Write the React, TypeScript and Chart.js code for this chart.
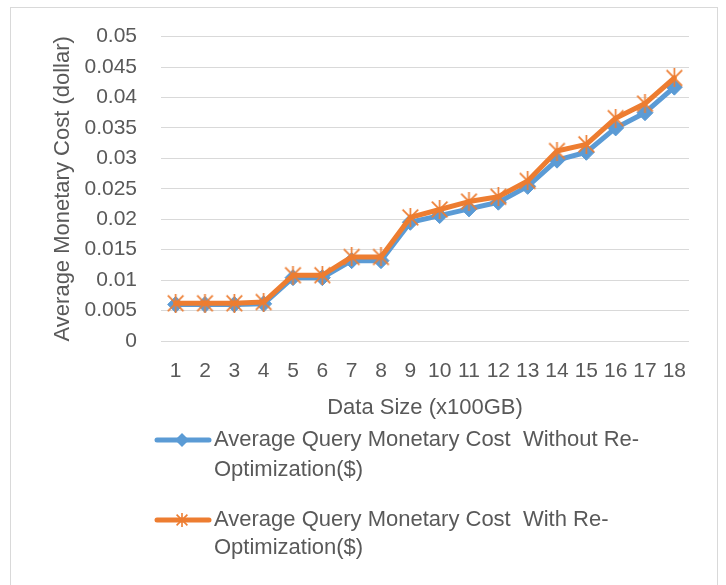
import React, { useEffect, useRef } from "react";
import { Chart, registerables } from "chart.js";

Chart.register(...registerables);

const categories: string[] = ["1","2","3","4","5","6","7","8","9","10","11","12","13","14","15","16","17","18"];
const withoutReopt: number[] = [0.0060, 0.0060, 0.0060, 0.0061, 0.0104, 0.0104, 0.0132, 0.0132, 0.0195, 0.0206, 0.0217, 0.0228, 0.0254, 0.0297, 0.0310, 0.0350, 0.0375, 0.0417];
const withReopt: number[] = [0.0062, 0.0062, 0.0062, 0.0064, 0.0108, 0.0108, 0.0138, 0.0138, 0.0203, 0.0216, 0.0229, 0.0237, 0.0263, 0.0312, 0.0323, 0.0366, 0.0390, 0.0432];
const seriesLabels: string[][] = [
  ["Average Query Monetary Cost  Without Re-", "Optimization($)"],
  ["Average Query Monetary Cost  With Re-", "Optimization($)"],
];
const yTitle = "Average Monetary Cost (dollar)";
const xTitle = "Data Size (x100GB)";

const BLUE = "#5B9BD5";
const ORANGE = "#ED7D31";
const TEXT = "#595959";
const GRID = "#D9D9D9";
const FONT = "'Liberation Sans', Arial, sans-serif";

function makeStar(size: number, color: string, lw: number): HTMLCanvasElement {
  const c = document.createElement("canvas");
  c.width = size;
  c.height = size;
  const ctx = c.getContext("2d")!;
  ctx.strokeStyle = color;
  ctx.lineWidth = lw;
  const m = lw;
  ctx.beginPath();
  ctx.moveTo(m, m);
  ctx.lineTo(size - m, size - m);
  ctx.moveTo(size - m, m);
  ctx.lineTo(m, size - m);
  ctx.moveTo(size / 2, 0);
  ctx.lineTo(size / 2, size);
  ctx.stroke();
  return c;
}

export default function App() {
  const ref = useRef<HTMLCanvasElement>(null);

  useEffect(() => {
    const canvas = ref.current;
    if (!canvas) return;
    const star = makeStar(19, ORANGE, 1.7);
    const smallStar = makeStar(14, ORANGE, 1.6);

    const framePlugin = {
      id: "frame",
      beforeDraw(chart: any) {
        const ctx = chart.ctx;
        ctx.save();
        ctx.strokeStyle = GRID;
        ctx.lineWidth = 1;
        ctx.strokeRect(10.5, 7.5, 707, 600);
        ctx.restore();
      },
      afterDraw(chart: any) {
        const ctx = chart.ctx;
        ctx.save();
        const entries = [
          { color: BLUE, y: 440, y2: 470, marker: "diamond", lines: seriesLabels[0] },
          { color: ORANGE, y: 520, y2: 548, marker: "star", lines: seriesLabels[1] },
        ];
        for (const e of entries) {
          ctx.strokeStyle = e.color;
          ctx.lineWidth = 5;
          ctx.lineCap = "round";
          ctx.beginPath();
          ctx.moveTo(157, e.y);
          ctx.lineTo(209, e.y);
          ctx.stroke();
          if (e.marker === "diamond") {
            ctx.fillStyle = e.color;
            ctx.beginPath();
            ctx.moveTo(182, e.y - 7);
            ctx.lineTo(189, e.y);
            ctx.lineTo(182, e.y + 7);
            ctx.lineTo(175, e.y);
            ctx.closePath();
            ctx.fill();
          } else {
            ctx.drawImage(smallStar, 182 - 7, e.y - 7);
          }
          ctx.fillStyle = TEXT;
          ctx.font = `22px ${FONT}`;
          ctx.textAlign = "left";
          ctx.textBaseline = "middle";
          ctx.fillText(e.lines[0], 214, e.y);
          ctx.fillText(e.lines[1], 214, e.y2);
        }
        ctx.restore();
      },
    };

    const chart = new Chart(canvas, {
      type: "line",
      data: {
        labels: categories,
        datasets: [
          {
            label: seriesLabels[0].join(""),
            data: withoutReopt,
            borderColor: BLUE,
            backgroundColor: BLUE,
            borderWidth: 5,
            pointStyle: "rectRot",
            pointRadius: 8,
            pointBorderWidth: 1,
            pointBackgroundColor: BLUE,
            pointBorderColor: BLUE,
            borderJoinStyle: "round",
            borderCapStyle: "round",
            tension: 0,
            order: 2,
          },
          {
            label: seriesLabels[1].join(""),
            data: withReopt,
            borderColor: ORANGE,
            backgroundColor: ORANGE,
            borderWidth: 5,
            pointStyle: star as any,
            pointRadius: 9,
            borderJoinStyle: "round",
            borderCapStyle: "round",
            tension: 0,
            order: 1,
          },
        ],
      },
      options: {
        animation: false,
        responsive: false,
        maintainAspectRatio: false,
        layout: { padding: { left: 38, top: 24, right: 37, bottom: 160 } },
        plugins: {
          legend: { display: false },
          tooltip: { enabled: false },
        },
        scales: {
          x: {
            type: "category",
            offset: true,
            grid: { display: false, drawTicks: false },
            border: { display: false },
            ticks: {
              color: TEXT,
              font: { family: FONT, size: 21 },
              padding: 18,
              maxRotation: 0,
              autoSkip: false,
            },
            title: {
              display: true,
              text: xTitle,
              color: TEXT,
              font: { family: FONT, size: 22 },
              padding: { top: 0, bottom: 4 },
            },
            afterFit(scale: any) {
              scale.height = 84;
            },
          },
          y: {
            min: 0,
            max: 0.05,
            grid: { color: GRID, lineWidth: 1, drawTicks: false },
            border: { display: false },
            ticks: {
              stepSize: 0.005,
              color: TEXT,
              font: { family: FONT, size: 21 },
              padding: 24,
              callback: (v: any) => String(parseFloat(Number(v).toFixed(3))),
            },
            title: {
              display: true,
              text: yTitle,
              color: TEXT,
              font: { family: FONT, size: 22 },
              padding: { top: 12, bottom: 0 },
            },
            afterFit(scale: any) {
              scale.width = 123;
            },
          },
        },
      },
      plugins: [framePlugin],
    });
    return () => chart.destroy();
  }, []);

  return (
    <div style={{ position: "fixed", left: 0, top: 0, width: 726, height: 585, background: "#fff" }}>
      <canvas ref={ref} width={726} height={585} style={{ width: 726, height: 585, display: "block" }} />
    </div>
  );
}
